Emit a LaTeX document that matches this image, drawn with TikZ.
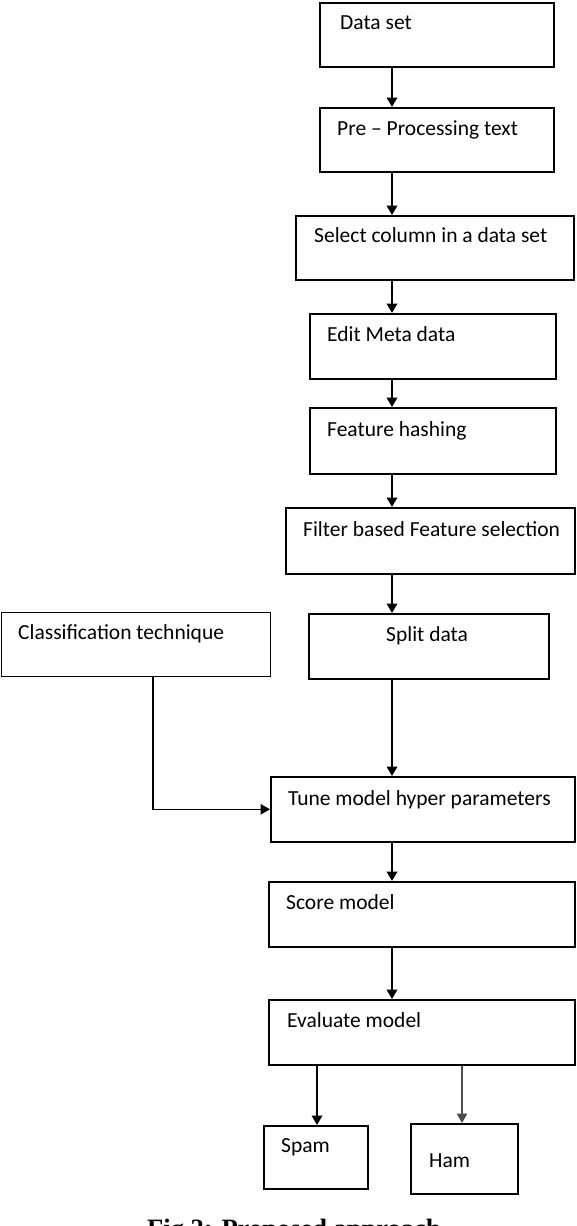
\documentclass[tikz,border=0pt]{standalone}
\usepackage{fontspec}
\setmainfont{Carlito}
\newfontfamily\capfont{Liberation Serif}
\usetikzlibrary{arrows.meta}
\begin{document}
\begin{tikzpicture}[x=1pt,y=-1pt,
  box/.style={draw=black, line width=1.6pt, rectangle, inner sep=0pt, anchor=north west},
  lbl/.style={anchor=base west, inner sep=0pt, font=\fontsize{21.5}{24}\selectfont},
  arr/.style={draw=black, line width=2pt, -{Triangle[width=10.5pt,length=9.5pt]}},
  arrthin/.style={draw=black, line width=1.2pt, -{Triangle[width=10.5pt,length=9.5pt]}},
  arrgray/.style={draw=black!70, line width=1.4pt, -{Triangle[width=10.5pt,length=9.5pt]}},
]
\useasboundingbox (0,0) rectangle (576,1226);
\fill[white] (0,0) rectangle (576,1226);
% boxes
\node[box, minimum width=234pt, minimum height=64pt] (b1) at (319,2) {};
\node[box, minimum width=234pt, minimum height=64pt] (b2) at (319,107) {};
\node[box, minimum width=278pt, minimum height=64pt] (b3) at (295,215) {};
\node[box, minimum width=246pt, minimum height=65pt] (b4) at (309,313) {};
\node[box, minimum width=246pt, minimum height=66pt] (b5) at (309,407) {};
\node[box, minimum width=289pt, minimum height=66pt] (b6) at (285,507) {};
\node[box, minimum width=269pt, minimum height=64pt, line width=1.3pt] (cls) at (1,612) {};
\node[box, minimum width=240pt, minimum height=65pt] (split) at (308,613) {};
\node[box, minimum width=304pt, minimum height=65pt] (tune) at (270,776) {};
\node[box, minimum width=306pt, minimum height=65pt] (score) at (268,881) {};
\node[box, minimum width=306pt, minimum height=65pt] (eval) at (268,999) {};
\node[box, minimum width=104pt, minimum height=63pt] (spam) at (263,1125) {};
\node[box, minimum width=107pt, minimum height=70pt] (ham) at (410,1123) {};
% labels
\node[lbl] (t1) at (340,29) {Data set};
\node[lbl] (t2) at (337,135) {Pre -- Processing text};
\node[lbl] (t3) at (314,242) {Select column in a data set};
\node[lbl] (t4) at (327,341) {Edit Meta data};
\node[lbl] (t5) at (327,436) {Feature hashing};
\node[lbl] (t6) at (303,536) {Filter based Feature selection};
\node[lbl] (tc) at (18,639) {Classification technique};
\node[lbl] (ts) at (386,641) {Split data};
\node[lbl] (tt) at (288,805.5) {Tune model hyper parameters};
\node[lbl] (tsc) at (286,909) {Score model};
\node[lbl] (te) at (287,1027) {Evaluate model};
\node[lbl] (tsp) at (281,1152) {Spam};
\node[lbl] (th) at (429,1167) {Ham};
% connectors
\coordinate (spine) at (392,0);
\coordinate (spx) at (317,0);
\coordinate (hmx) at (462,0);
\coordinate (cx) at (153,0);
\draw[arr] (b1.south -| spine) -- (b2.north -| spine);
\draw[arr] (b2.south -| spine) -- (b3.north -| spine);
\draw[arr] (b3.south -| spine) -- (b4.north -| spine);
\draw[arr] (b4.south -| spine) -- (b5.north -| spine);
\draw[arr] (b5.south -| spine) -- (b6.north -| spine);
\draw[arr] (b6.south -| spine) -- (split.north -| spine);
\draw[arr] (split.south -| spine) -- (tune.north -| spine);
\draw[arr] (tune.south -| spine) -- (score.north -| spine);
\draw[arr] (score.south -| spine) -- (eval.north -| spine);
\draw[arrthin] (cls.south -| cx) |- (tune.west);
\draw[arr] (eval.south -| spx) -- (spam.north -| spx);
\draw[arrgray] (eval.south -| hmx) -- (ham.north -| hmx);
% caption (cut by the page edge, as in the reference)
\node[anchor=base west, inner sep=0pt, font=\capfont\bfseries\fontsize{26.5}{30}\selectfont] (cap) at (147,1237) {Fig 2: Proposed approach};
\end{tikzpicture}
\end{document}
